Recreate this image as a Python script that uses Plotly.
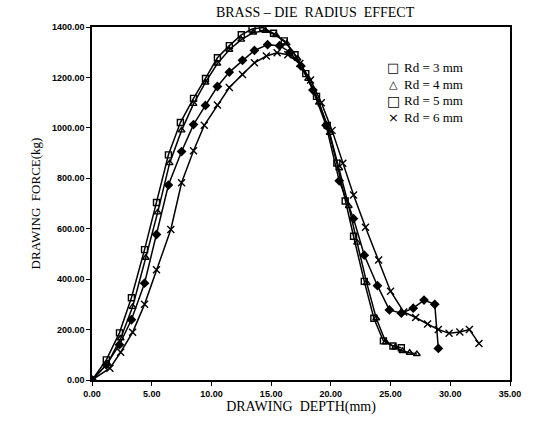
import plotly.graph_objects as go

# Rd = 3 mm (open square)
x_rd3 = [0, 1.2, 2.3, 3.3, 4.4, 5.4, 6.4, 7.4, 8.5, 9.5, 10.5, 11.5, 12.5, 13.4, 14.3, 15.2, 16.1, 17.0, 17.9, 18.8, 19.7, 20.5, 21.2, 21.9, 22.8, 23.6, 24.4, 25.2, 25.9]
y_rd3 = [0, 80, 187, 326, 517, 704, 893, 1021, 1117, 1196, 1278, 1326, 1369, 1392, 1398, 1375, 1345, 1290, 1215, 1125, 1010, 860, 710, 570, 391, 245, 155, 135, 128]

# Rd = 4 mm (open triangle)
x_rd4 = [0, 1.3, 2.4, 3.4, 4.5, 5.5, 6.5, 7.5, 8.5, 9.5, 10.5, 11.5, 12.5, 13.5, 14.5, 15.4, 16.3, 17.2, 18.1, 19.0, 19.9, 20.7, 21.5, 22.2, 23.0, 23.8, 24.6, 25.4, 26.0, 26.6, 27.2]
y_rd4 = [0, 65, 165, 290, 485, 665, 860, 990, 1095, 1180, 1255, 1310, 1350, 1378, 1385, 1368, 1335, 1275, 1195, 1100, 980, 840, 690, 545, 385, 245, 150, 130, 115, 108, 103]

# Rd = 5 mm
x_rd5 = [0, 1.2, 2.3, 3.3, 4.4, 5.4, 6.4, 7.5, 8.5, 9.5, 10.5, 11.5, 12.6, 13.6, 14.7, 15.7, 16.6, 17.5, 18.5, 19.6, 20.7, 21.9, 22.8, 23.9, 24.9, 25.9, 26.9, 27.8, 28.7, 29.0]
y_rd5 = [0, 60, 140, 239, 384, 577, 773, 906, 1013, 1089, 1164, 1221, 1268, 1307, 1330, 1326, 1300, 1245, 1150, 1010, 790, 640, 495, 374, 278, 265, 285, 317, 300, 125]

# Rd = 6 mm (x)
x_rd6 = [0, 1.5, 2.4, 3.4, 4.4, 5.4, 6.6, 7.5, 8.5, 9.4, 10.5, 11.5, 12.6, 13.6, 14.6, 15.5, 16.4, 17.4, 18.3, 19.2, 20.1, 21.0, 21.9, 22.9, 24.0, 25.0, 26.1, 27.1, 28.1, 29.0, 29.9, 30.8, 31.6, 32.4]
y_rd6 = [0, 47, 110, 189, 300, 437, 597, 782, 909, 1010, 1091, 1160, 1212, 1258, 1285, 1298, 1290, 1255, 1190, 1100, 990, 860, 734, 606, 476, 352, 270, 248, 222, 200, 185, 190, 200, 145]

legend_symbols = ["□", "△", "□", "×"]
legend_labels = ["Rd = 3 mm", "Rd = 4 mm", "Rd = 5 mm", "Rd = 6 mm"]
legend_symbol_sizes = [13, 11, 14, 13]

series = [
    (x_rd3, y_rd3, "square-open", 6),
    (x_rd4, y_rd4, "triangle-up-open", 6),
    (x_rd5, y_rd5, "diamond", 6),
    (x_rd6, y_rd6, "x-thin-open", 7),
]

fig = go.Figure()
for xs, ys, sym, sz in series:
    fig.add_trace(go.Scatter(
        x=xs, y=ys, mode="lines+markers", showlegend=False,
        line=dict(color="black", width=1.5),
        marker=dict(symbol=sym, size=sz, color="black",
                    line=dict(color="black", width=1.4)),
    ))

serif = "Liberation Serif"
tickfont = dict(family="Liberation Sans", size=9, color="black", weight="bold")

# legend drawn as text rows (paper coordinates)
row_y = [68, 85, 102, 119]
for sym, lab, ssz, py in zip(legend_symbols, legend_labels, legend_symbol_sizes, row_y):
    yy = 1 - (py - 27) / 358.0
    fig.add_annotation(x=(393 - 92) / 418.0, y=yy, xref="paper", yref="paper",
                       text=sym, showarrow=False, xanchor="center", yanchor="middle",
                       borderpad=0,
                       font=dict(family="DejaVu Sans", size=ssz, color="black"))
    fig.add_annotation(x=(403 - 92) / 418.0, y=yy, xref="paper", yref="paper",
                       text=lab, showarrow=False, xanchor="left", yanchor="middle",
                       borderpad=0,
                       font=dict(family=serif, size=13, color="black"))

fig.update_layout(
    width=547, height=422,
    margin=dict(l=92, r=37, t=27, b=37),
    paper_bgcolor="white", plot_bgcolor="white",
    title=dict(text="BRASS – DIE  RADIUS  EFFECT", x=0.576, xanchor="center",
               y=0.972, yanchor="middle",
               font=dict(family=serif, size=14, color="black")),
    showlegend=False,
)
fig.update_xaxes(
    range=[0, 35], dtick=5, tick0=0, tickformat=".2f",
    showline=True, mirror=True, linecolor="black", linewidth=1.5,
    ticks="outside", ticklen=4, tickcolor="black",
    showgrid=False, zeroline=False, tickfont=tickfont,
    title=dict(text="DRAWING  DEPTH(mm)", standoff=2,
               font=dict(family=serif, size=14, color="black")),
)
fig.update_yaxes(
    range=[0, 1400], dtick=200, tick0=0, tickformat=".2f",
    showline=True, mirror=True, linecolor="black", linewidth=1.5,
    ticks="outside", ticklen=4, tickcolor="black",
    showgrid=False, zeroline=False, tickfont=tickfont,
    title=dict(text="DRAWING  FORCE(kg)", standoff=8,
               font=dict(family=serif, size=13, color="black")),
)

fig.write_html("out.html")
